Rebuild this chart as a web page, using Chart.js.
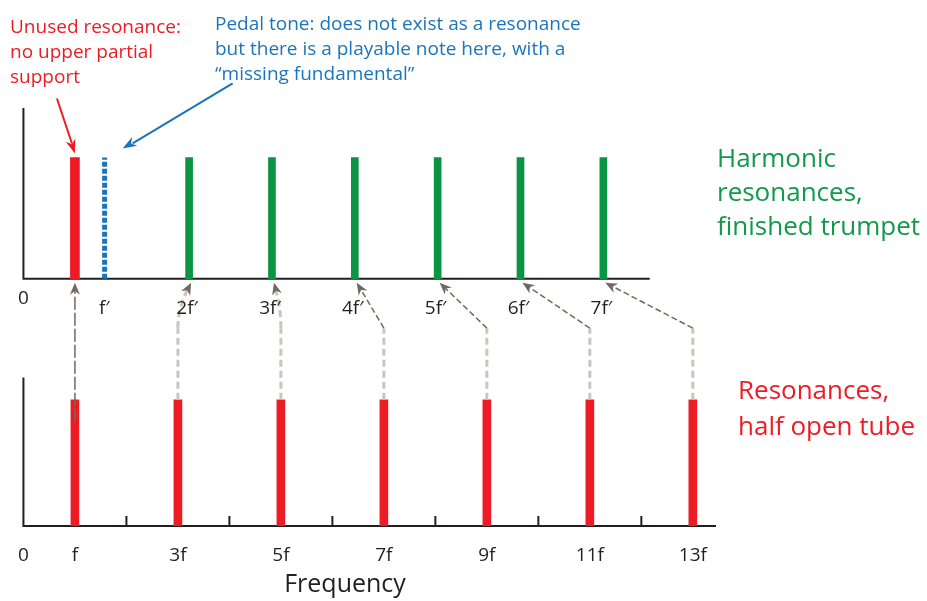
<!DOCTYPE html>
<html>
<head>
<meta charset="utf-8">
<script src="https://cdn.jsdelivr.net/npm/chart.js@4.4.0/dist/chart.umd.min.js"></script>
<style>
  html, body { margin: 0; padding: 0; background: #fff; }
  #wrap { width: 927px; height: 601px; }
</style>
</head>
<body>
<div id="wrap"><canvas id="chart" width="927" height="601"></canvas></div>
<script>
// Half open tube resonances (multiples of f)
const tubeHarmonics = [1, 3, 5, 7, 9, 11, 13];
const tubeLabels = ['f', '3f', '5f', '7f', '9f', '11f', '13f'];
const tubeTickMarks = [2, 4, 6, 8, 10, 12];
const tubeHeight = 1.02;
const tubeAxisMax = 13.45;

// Finished trumpet resonances (multiples of f')
const trumpetHarmonics = [2, 3, 4, 5, 6, 7];
const trumpetLabelValues = [1, 2, 3, 4, 5, 6, 7];
const trumpetLabels = ['f\u2032', '2f\u2032', '3f\u2032', '4f\u2032', '5f\u2032', '6f\u2032', '7f\u2032'];
const trumpetBase = 2;
const trumpetTop = 2.98;
const trumpetAxisEnd = 7.56;
const trumpetScaleMax = 8.36;

// Unused resonance sits at f, pedal tone at f'
const unusedResonance = 1;
const pedalTone = 0.98;

// Which tube resonance moves up to which trumpet resonance (null = the unused one)
const shiftFrom = [1, 3, 5, 7, 9, 11, 13];
const shiftTo = [null, 2, 3, 4, 5, 6, 7];

const INK = '#231f20';
const RED = '#ed1c24';
const GREEN = '#0a9444';
const BLUE = '#1b75bc';
const FONT = "'Open Sans', sans-serif";

// Draw a filled, slightly notched arrow head ending at (tx, ty)
function arrowHead(ctx, fx, fy, tx, ty, len, half, color) {
    const a = Math.atan2(ty - fy, tx - fx);
    const c = Math.cos(a), s = Math.sin(a);
    ctx.save();
    ctx.fillStyle = color;
    ctx.beginPath();
    ctx.moveTo(tx, ty);
    ctx.lineTo(tx - len * c + half * s, ty - len * s - half * c);
    ctx.lineTo(tx - len * 0.7 * c, ty - len * 0.7 * s);
    ctx.lineTo(tx - len * c - half * s, ty - len * s + half * c);
    ctx.closePath();
    ctx.fill();
    ctx.restore();
}

function strokeLine(ctx, pts, color, width, dash) {
    ctx.save();
    ctx.strokeStyle = color;
    ctx.lineWidth = width;
    ctx.setLineDash(dash || []);
    ctx.beginPath();
    ctx.moveTo(pts[0][0], pts[0][1]);
    for (let i = 1; i < pts.length; i++) ctx.lineTo(pts[i][0], pts[i][1]);
    ctx.stroke();
    ctx.restore();
}

function drawLines(ctx, lines, x, y, lineHeight, size, color) {
    ctx.save();
    ctx.font = size + 'px ' + FONT;
    ctx.fillStyle = color;
    ctx.textAlign = 'left';
    ctx.textBaseline = 'alphabetic';
    lines.forEach((t, i) => ctx.fillText(t, x, y + i * lineHeight));
    ctx.restore();
}

const diagramPlugin = {
    id: 'diagram',
    beforeDatasetsDraw(chart) {
        const ctx = chart.ctx;
        const x = chart.scales.x, xTop = chart.scales.xTop, y = chart.scales.y;

        // bottom panel axes
        const y0 = y.getPixelForValue(0);
        strokeLine(ctx, [[x.getPixelForValue(0), y.getPixelForValue(1.2)], [x.getPixelForValue(0), y0], [chart.chartArea.right, y0]], INK, 2);
        tubeTickMarks.forEach(v => {
            const px = x.getPixelForValue(v);
            strokeLine(ctx, [[px, y0], [px, y0 - 10]], INK, 2);
        });

        // top panel axes
        const yb = y.getPixelForValue(trumpetBase);
        strokeLine(ctx, [[xTop.getPixelForValue(0), y.getPixelForValue(3.38)], [xTop.getPixelForValue(0), yb], [xTop.getPixelForValue(trumpetAxisEnd), yb]], INK, 2);
    },
    afterDatasetsDraw(chart) {
        const ctx = chart.ctx;
        const x = chart.scales.x, xTop = chart.scales.xTop, y = chart.scales.y;
        const barTop = y.getPixelForValue(tubeHeight);
        const bend = y.getPixelForValue(1.6);
        const tipY = y.getPixelForValue(trumpetBase) + 4;
        const DARK = '#71685f';
        const LIGHT = '#c9c5c1';

        // connectors from tube resonances up to trumpet resonances
        shiftFrom.forEach((from, i) => {
            const bx = x.getPixelForValue(from);
            const to = shiftTo[i];
            if (to === null) {
                strokeLine(ctx, [[bx, barTop + 22], [bx, tipY + 8]], DARK, 1.5, [13, 3]);
                arrowHead(ctx, bx, tipY + 20, bx, tipY, 12, 5, DARK);
                return;
            }
            const tx = xTop.getPixelForValue(to) + 2;
            strokeLine(ctx, [[bx, barTop], [bx, bend]], LIGHT, 3, [7, 4]);
            if (Math.abs(tx - bx) < 15) {
                const cx = bx, cy = tipY + 26;
                const a = Math.atan2(tipY - cy, tx - cx);
                const ex = tx - 8 * Math.cos(a), ey = tipY - 8 * Math.sin(a);
                ctx.save();
                ctx.strokeStyle = LIGHT;
                ctx.lineWidth = 3;
                ctx.setLineDash([7, 4]);
                ctx.beginPath();
                ctx.moveTo(bx, bend);
                ctx.quadraticCurveTo(cx, cy, ex, ey);
                ctx.stroke();
                ctx.restore();
                arrowHead(ctx, cx, cy, tx, tipY, 12, 5, DARK);
            } else {
                const a = Math.atan2(tipY - bend, tx - bx);
                strokeLine(ctx, [[bx, bend], [tx - 8 * Math.cos(a), tipY - 8 * Math.sin(a)]], DARK, 1.5, [6, 3]);
                arrowHead(ctx, bx, bend, tx, tipY, 12, 5, DARK);
            }
        });

        // top tick labels
        ctx.save();
        ctx.font = '19px ' + FONT;
        ctx.fillStyle = INK;
        ctx.textAlign = 'center';
        ctx.textBaseline = 'middle';
        ctx.fillText('0', xTop.getPixelForValue(0), y.getPixelForValue(trumpetBase) + 20);
        trumpetLabelValues.forEach((v, i) => {
            ctx.fillText(trumpetLabels[i], xTop.getPixelForValue(v) - 2, y.getPixelForValue(trumpetBase) + 30);
        });
        ctx.font = '25px ' + FONT;
        ctx.fillText('Frequency', 345, 585);
        ctx.restore();

        // callout arrows
        const ux = x.getPixelForValue(unusedResonance);
        const uy = y.getPixelForValue(trumpetTop) - 4;
        strokeLine(ctx, [[ux - 18, uy - 55], [ux - 3, uy - 10]], RED, 2);
        arrowHead(ctx, ux - 18, uy - 55, ux, uy, 14, 5, RED);

        const px = xTop.getPixelForValue(pedalTone) + 18;
        const py = y.getPixelForValue(trumpetTop) - 9;
        strokeLine(ctx, [[px + 110, py - 65], [px + 10, py - 5]], BLUE, 2);
        arrowHead(ctx, px + 110, py - 65, px, py, 14, 5, BLUE);

        // text notes
        drawLines(ctx, ['Unused resonance:', 'no upper partial', 'support'], 10, 33, 25, 19, RED);
        drawLines(ctx, ['Pedal tone: does not exist as a resonance', 'but there is a playable note here, with a', '\u201cmissing fundamental\u201d'], 215, 30, 25, 19, BLUE);
        drawLines(ctx, ['Harmonic', 'resonances,', 'finished trumpet'], 717, 167, 34, 26, '#12994a');
        drawLines(ctx, ['Resonances,', 'half open tube'], 738, 399, 36, 26, RED);
    }
};

new Chart(document.getElementById('chart'), {
    type: 'bar',
    data: {
        datasets: [
            {
                label: 'Half open tube',
                data: tubeHarmonics.map(v => ({ x: v, y: tubeHeight })),
                backgroundColor: RED,
                barThickness: 8,
                grouped: false,
                xAxisID: 'x'
            },
            {
                label: 'Unused resonance',
                data: [{ x: unusedResonance, y: [trumpetBase, trumpetTop] }],
                backgroundColor: RED,
                barThickness: 9,
                grouped: false,
                xAxisID: 'x'
            },
            {
                label: 'Finished trumpet',
                data: trumpetHarmonics.map(v => ({ x: v, y: [trumpetBase, trumpetTop] })),
                backgroundColor: GREEN,
                barThickness: 7,
                grouped: false,
                xAxisID: 'xTop'
            },
            {
                type: 'line',
                label: 'Pedal tone',
                data: [{ x: pedalTone, y: trumpetBase }, { x: pedalTone, y: trumpetTop }],
                borderColor: BLUE,
                borderWidth: 5,
                borderDash: [5, 2],
                pointRadius: 0,
                xAxisID: 'xTop'
            }
        ]
    },
    options: {
        responsive: false,
        animation: false,
        events: [],
        layout: { padding: { left: 22, right: 211, top: 108, bottom: 0 } },
        plugins: { legend: { display: false }, tooltip: { enabled: false } },
        scales: {
            x: {
                type: 'linear',
                min: 0,
                max: tubeAxisMax,
                offset: false,
                grid: { display: false, drawTicks: false },
                border: { display: false },
                afterBuildTicks: scale => {
                    scale.ticks = [0].concat(tubeHarmonics).map(v => ({ value: v }));
                },
                afterFit: scale => { scale.height = 75; },
                ticks: {
                    autoSkip: false,
                    maxRotation: 0,
                    padding: 18,
                    color: INK,
                    font: { family: FONT, size: 19 },
                    callback: v => v === 0 ? '0' : tubeLabels[tubeHarmonics.indexOf(v)]
                }
            },
            xTop: {
                type: 'linear',
                display: false,
                min: 0,
                max: trumpetScaleMax,
                offset: false
            },
            y: {
                type: 'linear',
                display: false,
                min: 0,
                max: 3.38
            }
        }
    },
    plugins: [diagramPlugin]
});
</script>
</body>
</html>
